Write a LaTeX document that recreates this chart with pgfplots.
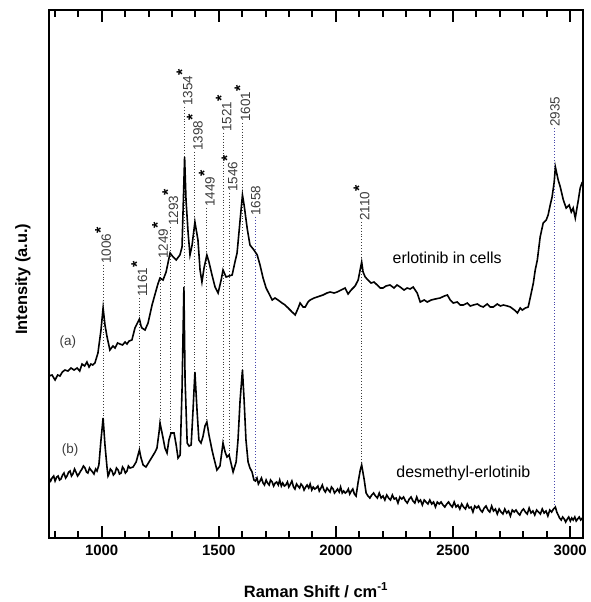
\documentclass[border=0pt]{standalone}
\usepackage{pgfplots}
\pgfplotsset{compat=1.18}
\usepackage{fontspec}
\setmainfont{Liberation Sans}

\definecolor{peakgray}{RGB}{60,60,60}
\definecolor{peakblue}{RGB}{70,70,170}

\newcommand{\pk}[1]{#1\raisebox{0.35em}{\color{black}\fontsize{16}{16}\selectfont\bfseries *}}

\begin{document}
\begin{tikzpicture}
\begin{axis}[
    name=ax,
    scale only axis,
    width=534bp, height=528bp,
    xmin=775, xmax=3055,
    ymin=0, ymax=528,
    clip=false,
    axis line style={line width=1.6bp},
    xtick={1000,1500,2000,2500,3000},
    xticklabels={1000,1500,2000,2500,3000},
    minor xtick={800,900,...,3000},
    ytick=\empty,
    xtick pos=both,
    xtick align=inside,
    major tick length=12bp,
    minor tick length=7bp,
    major tick style={draw=black, line width=2bp},
    minor tick style={draw=black, line width=2bp},
    xticklabel style={font=\bfseries\fontsize{15}{15}\selectfont, yshift=-4bp},
    xlabel={Raman Shift / cm\textsuperscript{-1}},
    xlabel style={at={(rel axis cs:0.5,-59/528)}, anchor=base, font=\bfseries\fontsize{16.5}{17}\selectfont},
    ylabel={Intensity (a.u.)},
    ylabel style={at={(rel axis cs:-22/534,0.49)}, anchor=base, font=\bfseries\fontsize{16.5}{17}\selectfont},
]

% bounding box of the whole figure
\path (rel axis cs:-49/534,-64/528) rectangle (rel axis cs:1+4/534,1+10/528);

% tick marks, bottom and top, pointing inward
\pgfplotsinvokeforeach{1000,1500,2000,2500,3000}{
  \addplot[draw=black, line width=2bp, forget plot] coordinates {(#1,0)(#1,12)};
  \addplot[draw=black, line width=2bp, forget plot] coordinates {(#1,528)(#1,516)};
}
\pgfplotsinvokeforeach{800,900,1100,1200,1300,1400,1600,1700,1800,1900,2100,2200,2300,2400,2600,2700,2800,2900}{
  \addplot[draw=black, line width=2bp, forget plot] coordinates {(#1,0)(#1,7)};
  \addplot[draw=black, line width=2bp, forget plot] coordinates {(#1,528)(#1,521)};
}

% peak marker lines
\addplot[peakgray, dotted, line width=0.9bp] coordinates {(1006,273)(1006,120)};
\addplot[peakgray, dotted, line width=0.9bp] coordinates {(1161,240)(1161,88)};
\addplot[peakgray, dotted, line width=0.9bp] coordinates {(1249,278)(1249,115)};
\addplot[peakgray, dotted, line width=0.9bp] coordinates {(1293,311)(1293,105)};
\addplot[peakgray, dotted, line width=0.9bp] coordinates {(1354,431)(1354,251)};
\addplot[peakgray, dotted, line width=0.9bp] coordinates {(1398,386)(1398,166)};
\addplot[peakgray, dotted, line width=0.9bp] coordinates {(1449,330)(1449,116)};
\addplot[peakgray, dotted, line width=0.9bp] coordinates {(1521,405)(1521,95)};
\addplot[peakgray, dotted, line width=0.9bp] coordinates {(1546,345)(1546,83)};
\addplot[peakgray, dotted, line width=0.9bp] coordinates {(1601,415)(1601,168)};
\addplot[peakblue, dotted, line width=0.9bp] coordinates {(1658,321)(1658,56)};
\addplot[peakgray, dotted, line width=0.9bp] coordinates {(2110,316)(2110,73)};
\addplot[peakblue, dotted, line width=0.9bp] coordinates {(2935,410)(2935,30)};

% (a) erlotinib in cells
\addplot[black, line width=1.6bp] coordinates {
(775,162)(788,163)(801,158)(812,163)(822,162)(832,166)(843,168)(856,167)(869,170)(882,168)(895,170)(906,167)(916,174)(927,172)(937,176)(946,171)(954,174)
(962,173)(971,175)(984,185)(997,208)(1006,230)(1014,213)(1023,201)(1035,188)(1048,192)(1057,190)(1068,195)(1078,194)
(1089,193)(1100,196)(1108,194)(1117,197)(1129,198)(1142,210)(1161,219)(1168,212)(1172,210)(1185,208)(1198,215)(1215,233)
(1228,244)(1240,254)(1249,260)(1262,258)(1275,266)(1292,285)(1305,281)(1318,278)(1334,283)(1343,291)
(1354,381)(1360,338)(1369,305)(1377,283)(1386,293)(1398,316)(1411,298)(1420,268)(1428,256)(1437,270)
(1449,283)(1458,276)(1471,263)(1484,251)(1497,245)(1510,258)(1518,268)(1531,261)(1544,262)(1557,263)
(1569,276)(1578,285)(1591,318)(1601,343)(1608,333)(1621,310)(1633,293)(1650,288)(1664,283)(1676,273)
(1689,260)(1702,250)(1715,244)(1728,238)(1740,240)(1753,238)(1770,235)(1783,233)(1796,230)(1813,226)
(1826,223)(1839,230)(1847,235)(1860,231)(1869,231)(1881,236)(1890,238)(1907,240)(1920,241)(1932,242)
(1945,243)(1962,245)(1975,246)(1992,245)(2005,246)(2022,248)(2039,250)(2052,244)(2065,248)(2082,252)
(2095,258)(2110,276)(2116,266)(2125,261)(2137,258)(2150,255)(2163,256)(2176,253)(2189,250)(2201,250)
(2214,252)(2231,253)(2248,250)(2261,253)(2274,251)(2291,248)(2304,250)(2317,249)(2330,251)(2347,245)
(2360,236)(2377,238)(2390,236)(2407,238)(2424,239)(2445,240)(2463,242)(2476,243)(2488,238)(2501,235)
(2518,236)(2531,233)(2544,233)(2561,235)(2574,232)(2587,233)(2604,234)(2617,232)(2629,231)(2646,234)
(2659,231)(2672,231)(2689,234)(2702,232)(2715,233)(2732,232)(2745,231)(2762,228)(2775,225)(2787,230)
(2796,228)(2809,230)(2821,231)(2834,245)(2843,255)(2851,268)(2860,278)(2872,301)(2885,315)(2898,318)
(2906,323)(2915,333)(2923,341)(2932,356)(2937,371)(2949,358)(2958,351)(2971,338)(2983,330)(2996,333)
(3005,326)(3013,330)(3022,320)(3035,338)(3043,350)(3052,356)
};

% (b) desmethyl-erlotinib
\addplot[black, line width=1.6bp] coordinates {
(775,60)(782,57)(788,60)(795,62)(801,57)(808,61)(814,62)(820,58)(826,59)(833,63)(839,65)(846,60)(852,62)(859,66)(865,67)(871,62)(877,64)(884,69)(890,66)
(897,62)(903,64)(910,67)(916,69)(922,72)(929,70)(935,66)(941,65)(948,70)(954,68)(961,66)(967,64)(974,69)(980,67)(988,73)(997,98)(1006,120)
(1014,93)(1023,70)(1027,62)(1031,64)(1037,69)(1044,67)(1050,63)(1057,65)(1063,70)(1070,68)(1076,64)(1083,65)(1089,71)(1095,69)(1101,65)(1108,67)(1114,72)(1121,70)
(1134,71)(1147,76)(1161,88)(1168,80)(1177,73)(1189,71)(1202,76)(1215,81)(1228,86)(1236,90)
(1245,106)(1249,115)(1262,100)(1270,90)(1279,85)(1287,98)(1296,105)(1309,105)(1318,93)(1326,80)
(1335,83)(1343,148)(1351,251)(1356,158)(1365,95)(1373,92)(1382,93)(1390,128)(1398,166)(1407,128)
(1415,98)(1424,95)(1432,101)(1441,112)(1449,116)(1458,103)(1471,88)(1479,80)(1492,68)(1505,72)
(1518,95)(1527,86)(1535,81)(1544,83)(1552,75)(1561,66)(1574,76)(1582,98)(1591,138)(1601,168)
(1608,138)(1616,98)(1625,76)(1633,70)(1642,66)(1650,58)
(1656,57)(1663,60)(1669,54)(1676,57)(1682,60)(1689,55)(1695,53)(1702,58)(1708,55)(1715,53)
(1721,58)(1728,56)(1734,52)(1741,55)(1747,56)(1754,53)(1760,58)(1767,52)(1773,55)(1780,52)
(1786,53)(1793,56)(1799,51)(1806,54)(1812,57)(1819,51)(1825,49)(1832,54)(1838,52)(1845,50)
(1851,54)(1858,52)(1864,48)(1871,51)(1877,53)(1884,50)(1890,54)(1897,48)(1903,51)(1910,49)
(1916,50)(1923,52)(1929,47)(1936,50)(1942,53)(1949,48)(1955,46)(1962,50)(1968,48)(1975,46)
(1981,51)(1988,49)(1994,45)(2001,47)(2007,49)(2014,46)(2020,51)(2027,45)(2033,47)(2040,45)
(2046,46)(2053,49)(2059,44)(2066,47)(2072,49)(2079,44)(2086,42)
(2095,56)(2104,68)(2110,73)(2121,58)
(2129,45)(2137,42)(2145,40)(2153,43)(2161,45)(2169,42)(2177,40)(2185,45)(2193,40)(2201,42)
(2209,38)(2217,43)(2225,40)(2233,38)(2241,43)(2249,39)(2257,40)(2265,35)(2273,41)(2281,39)
(2289,41)(2297,37)(2305,35)(2313,39)(2321,41)(2329,37)(2337,35)(2345,41)(2353,36)(2361,38)
(2369,33)(2377,38)(2385,36)(2393,34)(2401,38)(2409,34)(2417,36)(2425,31)(2433,36)(2441,34)
(2449,36)(2457,33)(2465,31)(2473,34)(2481,36)(2489,33)(2497,31)(2505,36)(2513,31)(2521,33)
(2529,29)(2537,34)(2545,31)(2553,29)(2561,34)(2569,30)(2577,31)(2585,26)(2593,32)(2601,30)
(2609,32)(2617,28)(2625,26)(2633,30)(2641,32)(2649,28)(2657,26)(2665,32)(2673,27)(2681,29)
(2689,24)(2697,29)(2705,26)(2713,24)(2721,29)(2729,25)(2737,27)(2745,22)(2753,28)(2761,26)
(2769,28)(2777,25)(2785,23)(2793,27)(2801,29)(2809,26)(2817,24)(2825,30)(2833,25)(2841,27)
(2849,23)(2857,28)(2865,26)(2873,24)(2881,29)(2889,25)(2897,27)(2905,22)(2913,28)(2921,26)
(2929,29)(2937,31)(2943,26)(2949,23)(2955,20)(2962,18)(2968,21)(2975,19)(2981,16)(2988,19)
(2994,21)(3001,17)(3007,20)(3013,18)(3020,21)(3026,17)(3032,19)(3039,21)(3045,18)(3052,20)
};

% peak labels
\begin{scope}[every node/.style={rotate=90, anchor=west, inner sep=1bp, text=peakgray, font=\fontsize{13.5}{14}\selectfont}]
\node at (axis cs:1006,273) {\pk{1006}};
\node at (axis cs:1161,240) {\pk{1161}};
\node at (axis cs:1249,278) {\pk{1249}};
\node at (axis cs:1293,311) {\pk{1293}};
\node at (axis cs:1354,431) {\pk{1354}};
\node at (axis cs:1398,386) {\pk{1398}};
\node at (axis cs:1449,330) {\pk{1449}};
\node at (axis cs:1521,405) {\pk{1521}};
\node at (axis cs:1546,345) {\pk{1546}};
\node at (axis cs:1601,415) {\pk{1601}};
\node at (axis cs:1658,321) {1658};
\node at (axis cs:2110,316) {\pk{2110}};
\node at (axis cs:2935,410) {2935};
\end{scope}

\node[text=peakgray, font=\fontsize{13.5}{14}\selectfont] at (axis cs:856,196) {(a)};
\node[text=peakgray, font=\fontsize{13.5}{14}\selectfont] at (axis cs:865,88) {(b)};
\node[font=\fontsize{16}{17}\selectfont] at (axis cs:2475,280) {erlotinib in cells};
\node[font=\fontsize{16}{17}\selectfont] at (axis cs:2544,65) {desmethyl-erlotinib};

\end{axis}
% tick marks drawn once more on top of the finished axis
\foreach \t/\l in {800/7,900/7,1000/12,1100/7,1200/7,1300/7,1400/7,1500/12,1600/7,1700/7,1800/7,1900/7,2000/12,2100/7,2200/7,2300/7,2400/7,2500/12,2600/7,2700/7,2800/7,2900/7,3000/12}{
  \pgfmathsetmacro{\xx}{(\t-775)/2280*534}
  \draw[black, line width=2bp] ([xshift=\xx bp]ax.south west) -- ++(0,\l bp);
  \draw[black, line width=2bp] ([xshift=\xx bp]ax.north west) -- ++(0,-\l bp);
}
\end{tikzpicture}
\end{document}
